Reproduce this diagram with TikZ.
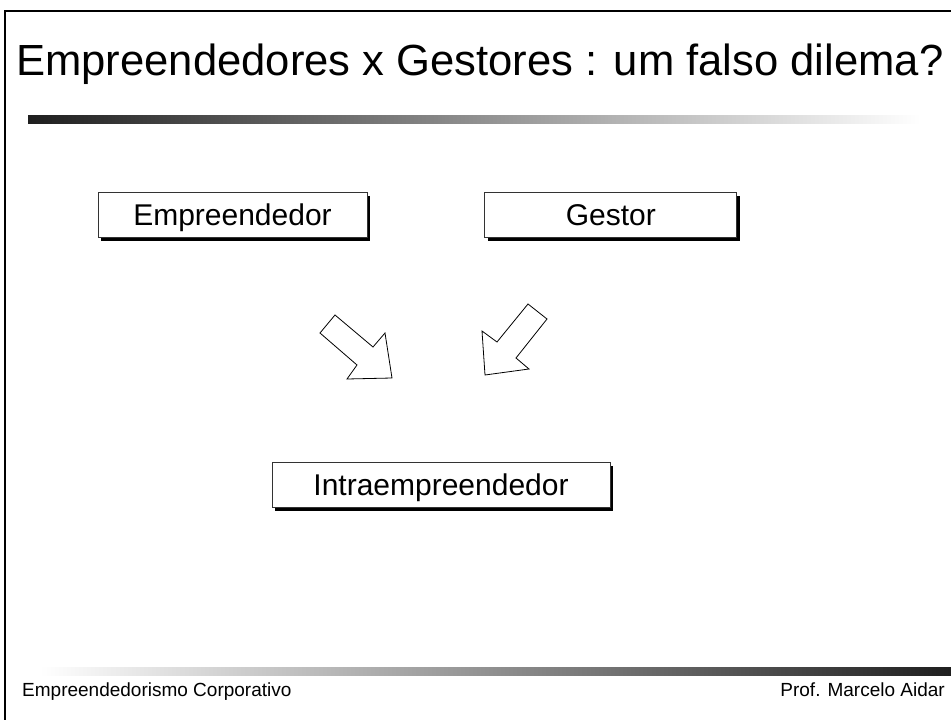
\documentclass[tikz,border=0pt]{standalone}
\usepackage{fontspec}
\setmainfont{Liberation Sans}
\usetikzlibrary{positioning}

\begin{document}
\begin{tikzpicture}[
    x=1pt, y=-1pt, % pixel-like units, y going down
    caixa/.style={
        rectangle, draw=black!80, line width=0.8pt, fill=white,
        inner sep=0pt, minimum height=45pt, text height=21.5pt, text depth=0pt,
        font=\fontsize{30}{30}\selectfont,
        preaction={fill=black, transform canvas={shift={(3pt,-3pt)}}}
    },
    seta/.style={draw=black, line width=0.8pt, fill=white, line join=miter},
    rodape/.style={font=\fontsize{19}{19}\selectfont, anchor=base west, inner sep=0pt}
]
    \useasboundingbox (0,0) rectangle (951,720);

    % --- frame ---
    \draw[line width=2.2pt] (5,720) -- (5,11) -- (951,11);

    % --- title and bars ---
    \node[anchor=base west, inner sep=0pt, font=\fontsize{43.6}{43.6}\selectfont] (Titulo) at (16,75)
        {Empreendedores x Gestores : um falso dilema?};
    \shade[left color=black!88, right color=white] (28,115) rectangle (920,123);
    \shade[left color=white, right color=black!88] (40,667) rectangle (951,675);

    % --- boxes ---
    \node[caixa, minimum width=269pt] (Empreendedor) at (232.5,215) {Empreendedor};
    \node[caixa, minimum width=252pt] (Gestor) [right=117pt of Empreendedor] {Gestor};
    \node[caixa, minimum width=338pt] (Intra) at (441,485) {Intraempreendedor};

    % --- block arrows ---
    \draw[seta] (335,315) -- (320,333) -- (357,365) -- (347,379) -- (392,378)
        -- (385,333) -- (373,347) -- cycle;
    \draw[seta] (528,304) -- (547,319) -- (516,358) -- (529,369) -- (485,375)
        -- (482,331) -- (497,342) -- cycle;

    % --- footer ---
    \node[rodape] (Disciplina) at (22,696) {Empreendedorismo Corporativo};
    \node[rodape, anchor=base east] (Professor) at (945,696) {Prof. Marcelo Aidar};

\end{tikzpicture}
\end{document}
